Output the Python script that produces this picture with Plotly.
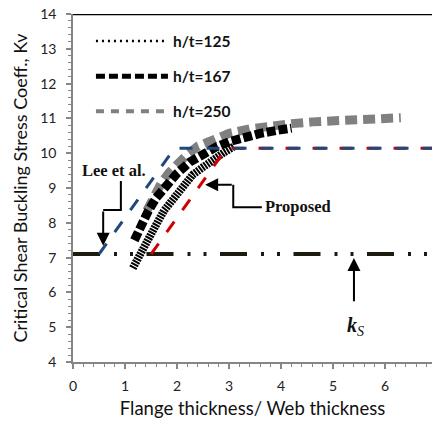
import plotly.graph_objects as go

# ---- data ----
ht125_x = [1.15, 1.3, 1.45, 1.6, 1.75, 1.9, 2.1, 2.3, 2.5, 2.7, 2.9, 3.1]
ht125_y = [6.7, 7.15, 7.55, 7.95, 8.35, 8.65, 9.05, 9.38, 9.6, 9.83, 10.02, 10.2]

ht167_x = [1.18, 1.3, 1.45, 1.6, 1.8, 2.0, 2.25, 2.5, 2.75, 3.0, 3.3, 3.6, 3.9, 4.2]
ht167_y = [7.5, 7.9, 8.35, 8.72, 9.1, 9.42, 9.75, 9.98, 10.18, 10.33, 10.47, 10.57, 10.65, 10.72]

ht250_x = [1.42, 1.55, 1.7, 1.85, 2.0, 2.2, 2.4, 2.7, 3.0, 3.4, 3.8, 4.2, 4.6, 5.0, 5.4, 5.8, 6.3]
ht250_y = [8.35, 8.75, 9.15, 9.45, 9.7, 9.97, 10.2, 10.42, 10.57, 10.7, 10.79, 10.85, 10.9, 10.94, 10.98, 11.0, 11.02]

ks_x = [0, 6.9]
ks_y = [7.1, 7.1]

lee_x = [0.5, 1.95, 6.9]
lee_y = [7.1, 10.14, 10.14]

prop_x = [1.5, 2.95, 6.9]
prop_y = [7.1, 10.14, 10.14]

x_range = [0, 6.9]
y_range = [4, 14]

# ---- figure ----
fig = go.Figure()

fig.add_trace(go.Scatter(x=ks_x, y=ks_y, mode="lines", showlegend=False,
                         line=dict(color="#1d1a0f", width=4,
                                   dash="27px,14px,3px,13px,3px,13.5px")))
fig.add_trace(go.Scatter(x=ht250_x, y=ht250_y, mode="lines", showlegend=False,
                         line=dict(color="#808080", width=9, dash="12px,6px")))
fig.add_trace(go.Scatter(x=ht167_x, y=ht167_y, mode="lines", showlegend=False,
                         line=dict(color="#000000", width=9, dash="9px,3px")))
fig.add_trace(go.Scatter(x=ht125_x, y=ht125_y, mode="lines", showlegend=False,
                         line=dict(color="#000000", width=8, dash="2px,1px")))
fig.add_trace(go.Scatter(x=prop_x, y=prop_y, mode="lines", showlegend=False,
                         line=dict(color="#d00000", width=3, dash="13px,14px")))
fig.add_trace(go.Scatter(x=lee_x, y=lee_y, mode="lines", showlegend=False,
                         line=dict(color="#1f497d", width=3, dash="13px,14px")))

# legend entries
fig.add_trace(go.Scatter(x=[None], y=[None], mode="lines", name="h/t=125", legendgroup="a",
                         line=dict(color="#000000", width=2.5, dash="2px,4px")))
fig.add_trace(go.Scatter(x=[None], y=[None], mode="lines", name="h/t=167", legendgroup="b",
                         line=dict(color="#000000", width=5, dash="9px,4px")))
fig.add_trace(go.Scatter(x=[None], y=[None], mode="lines", name="h/t=250", legendgroup="c",
                         line=dict(color="#808080", width=4, dash="8px,7px")))

axis_col = "#868686"
font_main = "Lato, 'Open Sans', sans-serif"

fig.update_xaxes(range=x_range, dtick=1, tick0=0, showgrid=False, zeroline=False,
                 showline=True, linecolor=axis_col, linewidth=1.5,
                 ticks="outside", ticklen=5, tickcolor=axis_col, tickwidth=1.5,
                 ticklabelstandoff=5,
                 minor=dict(dtick=0.2, ticks="outside", ticklen=3, tickcolor=axis_col, tickwidth=1, showgrid=False),
                 tickfont=dict(family=font_main, size=14, color="#222"),
                 title=dict(text="Flange thickness/ Web thickness", standoff=10,
                            font=dict(family=font_main, size=18.5, color="#111")))
fig.update_yaxes(range=y_range, dtick=1, tick0=0, showgrid=False, zeroline=False,
                 showline=True, linecolor=axis_col, linewidth=1.5,
                 ticks="outside", ticklen=5, tickcolor=axis_col, tickwidth=1.5,
                 ticklabelstandoff=7,
                 minor=dict(dtick=0.2, ticks="outside", ticklen=3, tickcolor=axis_col, tickwidth=1, showgrid=False),
                 tickfont=dict(family=font_main, size=14, color="#222"),
                 title=dict(text="Critical Shear Buckling Stress Coeff., Kv", standoff=8,
                            font=dict(family=font_main, size=18, color="#111")))

serif = "'Liberation Serif', 'DejaVu Serif', serif"

fig.update_layout(
    width=432, height=427,
    margin=dict(l=73, r=0, t=14, b=65),
    plot_bgcolor="white", paper_bgcolor="white",
    legend=dict(x=0.05, y=0.97, xanchor="left", yanchor="top",
                bgcolor="rgba(0,0,0,0)", itemwidth=72, tracegroupgap=12,
                traceorder="grouped",
                font=dict(family=font_main, size=15.5, color="#111", weight="bold")),
    shapes=[
        dict(type="line", xref="paper", x0=0, x1=1, yref="y", y0=14, y1=14,
             line=dict(color="black", width=2.5)),
        # Lee et al. elbow
        dict(type="path", xref="x", yref="y", path="M0.92,9.2 L0.92,8.37 L0.58,8.37",
             line=dict(color="black", width=2)),
        # Proposed elbow
        dict(type="path", xref="x", yref="y", path="M3.63,8.45 L3.08,8.45 L3.08,9.09",
             line=dict(color="black", width=2)),
    ],
    annotations=[
        dict(x=0.78, y=9.5, xref="x", yref="y", text="<b>Lee et al.</b>", showarrow=False,
             font=dict(family=serif, size=16.5, color="#111")),
        dict(x=0.58, y=7.34, xref="x", yref="y", ax=0.58, ay=8.37, axref="x", ayref="y",
             text="", showarrow=True, arrowhead=2, arrowsize=1.3, arrowwidth=2, arrowcolor="black"),
        dict(x=4.33, y=8.48, xref="x", yref="y", text="<b>Proposed</b>", showarrow=False,
             font=dict(family=serif, size=16.5, color="#111")),
        dict(x=2.54, y=9.09, xref="x", yref="y", ax=3.08, ay=9.09, axref="x", ayref="y",
             text="", showarrow=True, arrowhead=2, arrowsize=1.3, arrowwidth=2, arrowcolor="black"),
        dict(x=5.40, y=6.99, xref="x", yref="y", ax=5.40, ay=5.70, axref="x", ayref="y",
             text="", showarrow=True, arrowhead=2, arrowsize=1.3, arrowwidth=2, arrowcolor="black"),
        dict(x=5.42, y=5.03, xref="x", yref="y",
             text="<b><i>k</i></b><sub><i>S</i></sub>", showarrow=False,
             font=dict(family=serif, size=20, color="#111")),
    ],
)

fig.write_html("out.html")
